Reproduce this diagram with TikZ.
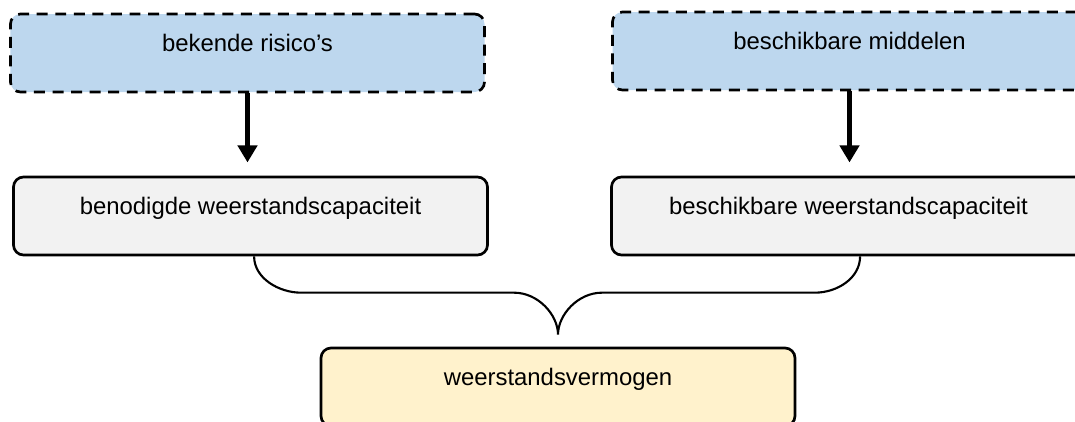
\documentclass[tikz,border=0pt]{standalone}
\usepackage{fontspec}
\setmainfont{Liberation Sans}
\usetikzlibrary{positioning, arrows.meta, calc}
\definecolor{blueish}{HTML}{BDD7EE}
\definecolor{greyish}{HTML}{F2F2F2}
\definecolor{yellowish}{HTML}{FFF2CC}

\begin{document}
\begin{tikzpicture}[
        box/.style={draw, line width=1.9pt, rounded corners=0.25cm, inner sep=0pt,
            minimum width=11.85cm, text height=0.93cm, text depth=1.02cm,
            font=\fontsize{17}{20}\selectfont},
        given/.style={box, fill=blueish, dash pattern=on 7.8pt off 5.4pt},
        capacity/.style={box, fill=greyish},
        result/.style={box, fill=yellowish},
        arr/.style={line width=4.2pt, -{Triangle[length=0.43cm, width=0.48cm]}},
        brace/.style={line width=1.5pt}
    ]
        \clip (0,0) rectangle (26.875,10.525);

        \node[given] (a) at (6.1875, 9.2) {bekende risico’s}; % risico's
        \node[given] (b) at (21.2375, 9.25) {beschikbare middelen}; % middelen
        \node[capacity] (c) at (6.2625, 5.125) {benodigde weerstandscapaciteit}; % nodig
        \node[capacity] (d) at (21.2125, 5.125) {beschikbare weerstandscapaciteit}; % beschikbaar
        \node[result] (e) at (13.95, 0.85) {weerstandsvermogen}; % vermogen
        \coordinate (tip) at ($(e.north)+(0,0.3)$);

        \draw[arr, shorten >=0.33cm] (a.south) -- (a.south |- c.north);
        \draw[arr, shorten >=0.33cm] (b.south) -- (b.south |- c.north);

        \draw[brace]
            ($(c.south)+(0.09,0)$) .. controls +(0,-0.55) and +(-0.55,0) .. ($(tip)+(-6.425,1.05)$)
            -- ($(tip)+(-1.1,1.05)$) .. controls +(0.6,0) and +(0,0.5) .. (tip)
            .. controls +(0,0.5) and +(-0.6,0) .. ($(tip)+(1.1,1.05)$)
            -- ($(tip)+(6.425,1.05)$) .. controls +(0.55,0) and +(0,-0.55) .. ($(d.south)+(0.29,0)$)
            ;
    \end{tikzpicture}
\end{document}
